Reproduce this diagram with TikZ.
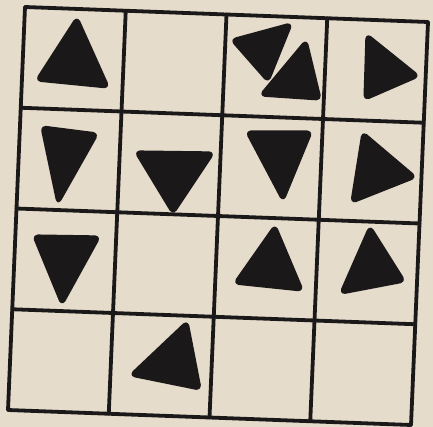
\documentclass[tikz,border=0pt]{standalone}
\usepackage{tikz}
\definecolor{paper}{HTML}{E6DCCB}
\definecolor{ink}{HTML}{1B1819}

\begin{document}
\begin{tikzpicture}[
    x=0.5pt, y=-0.5pt,
    gridline/.style={draw=ink, line width=1.9pt, line cap=round},
    tri/.style={fill=ink, draw=ink, line width=1.6pt, line join=round, rounded corners=2pt},
]
\fill[paper] (0,0) rectangle (433,427);
\useasboundingbox (0,0) rectangle (433,427);
% grid corners (the sheet is slightly skewed)
\foreach \i in {0,...,4}
  \foreach \j in {0,...,4}
    \coordinate (c\i\j) at ({25+100.75*\i-4.25*\j},{7+3.75*\i+100.75*\j});
\foreach \k in {0,...,4} {
  \draw[gridline] (c0\k) -- (c4\k);
  \draw[gridline] (c\k0) -- (c\k4);
}
% row 1
\filldraw[tri] (77,18) -- (37,80) -- (108,87) -- cycle;
\filldraw[tri] (232,40) -- (291,24) -- (268,81) -- cycle;
\filldraw[tri] (306,41) -- (261,95) -- (320,99) -- cycle;
\filldraw[tri] (367,35) -- (365,99) -- (418,76) -- cycle;
% row 2
\filldraw[tri] (42,127) -- (97,134) -- (58,203) -- cycle;
\filldraw[tri] (136,152) -- (213,153) -- (173,213) -- cycle;
\filldraw[tri] (247,132) -- (311,132) -- (283,200) -- cycle;
\filldraw[tri] (363,133) -- (352,202) -- (415,177) -- cycle;
% row 3
\filldraw[tri] (34,236) -- (99,237) -- (62,304) -- cycle;
\filldraw[tri] (275,226) -- (235,283) -- (302,290) -- cycle;
\filldraw[tri] (370,227) -- (341,293) -- (404,281) -- cycle;
% row 4
\filldraw[tri] (187,322) -- (131,375) -- (200,389) -- cycle;
\end{tikzpicture}
\end{document}
